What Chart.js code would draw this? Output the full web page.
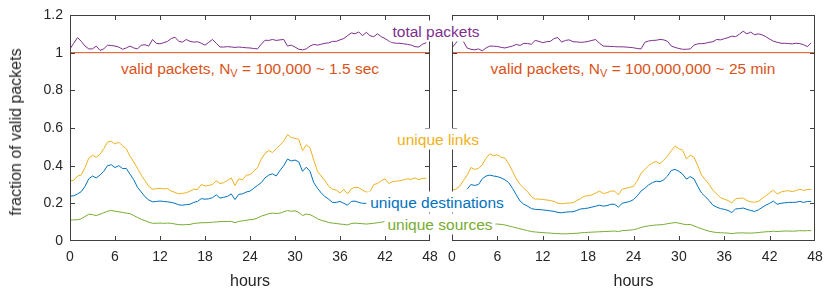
<!DOCTYPE html>
<html>
<head>
<meta charset="utf-8">
<script src="https://cdn.jsdelivr.net/npm/chart.js@4.4.1/dist/chart.umd.min.js"></script>
<style>
body { margin: 0; background: #fff; }
#wrap { position: relative; width: 830px; height: 299px; font-family: "Liberation Sans", Arial, sans-serif; color: #262626; }
#wrap canvas { position: absolute; top: 0; }
.box { position: absolute; border: 1px solid #404040; box-sizing: border-box; pointer-events: none; }
.lbl { position: absolute; background: #fff; font-size: 15.5px; line-height: 17px; padding: 2px 3px; white-space: nowrap; transform: translate(-50%, -50%); }
.lbl sub { font-size: 11px; line-height: 0; vertical-align: -3px; }
.ytitle { position: absolute; left: 16px; top: 132px; font-size: 16px; white-space: nowrap; transform: translate(-50%, -50%) rotate(-90deg); }
</style>
</head>
<body>
<div id="wrap">
  <canvas id="left" width="440" height="299" style="left:0"></canvas>
  <canvas id="right" width="390" height="299" style="left:440px"></canvas>
  <div class="box" id="box-left"></div>
  <div class="box" id="box-right"></div>
  <div class="ytitle">fraction of valid packets</div>
  <div class="lbl" style="left:436px;top:31px;color:#7E2F8E">total packets</div>
  <div class="lbl" style="left:250px;top:68px;color:#D95319">valid packets, N<sub>V</sub> = 100,000 ~ 1.5 sec</div>
  <div class="lbl" style="left:633px;top:68px;color:#D95319">valid packets, N<sub>V</sub> = 100,000,000 ~ 25 min</div>
  <div class="lbl" style="left:438px;top:139px;color:#EDB120">unique links</div>
  <div class="lbl" style="left:437px;top:202px;color:#0072BD">unique destinations</div>
  <div class="lbl" style="left:440px;top:224px;color:#77AC30">unique sources</div>
</div>
<script>
// time axis, half-hour samples
const hours = [
  0,0.5,1,1.5,2,2.5,3,3.5,4,4.5,5,5.5,
  6,6.5,7,7.5,8,8.5,9,9.5,10,10.5,11,11.5,
  12,12.5,13,13.5,14,14.5,15,15.5,16,16.5,17,17.5,
  18,18.5,19,19.5,20,20.5,21,21.5,22,22.5,23,23.5,
  24,24.5,25,25.5,26,26.5,27,27.5,28,28.5,29,29.5,
  30,30.5,31,31.5,32,32.5,33,33.5,34,34.5,35,35.5,
  36,36.5,37,37.5,38,38.5,39,39.5,40,40.5,41,41.5,
  42,42.5,43,43.5,44,44.5,45,45.5,46,46.5,47,47.5
];
const xTicks = [0, 6, 12, 18, 24, 30, 36, 42, 48];
const validLevel = 1;
const validSpan = [0, 48];

// left panel: N_V = 100,000
const leftTotal = [
  1.02,1.05,1.08,1.06,1.035,1.02,1.02,1.035,1.012,1.02,1.04,1.038,
  1.035,1.03,1.018,1.025,1.035,1.025,1.02,1.04,1.042,1.035,1.07,1.05,
  1.047,1.053,1.06,1.075,1.082,1.06,1.056,1.07,1.06,1.056,1.058,1.05,
  1.04,1.055,1.07,1.05,1.03,1.03,1.032,1.03,1.028,1.03,1.028,1.026,
  1.025,1.022,1.02,1.045,1.066,1.065,1.07,1.065,1.068,1.07,1.035,1.04,
  1.03,1.018,1.015,1.02,1.035,1.044,1.04,1.045,1.05,1.052,1.06,1.06,
  1.068,1.075,1.09,1.105,1.1,1.11,1.09,1.108,1.09,1.085,1.1,1.085,
  1.075,1.062,1.053,1.05,1.05,1.047,1.044,1.04,1.032,1.03,1.045,1.053
];
const leftLinks = [
  0.32,0.322,0.345,0.35,0.39,0.44,0.455,0.445,0.46,0.49,0.525,0.53,
  0.515,0.525,0.505,0.49,0.45,0.42,0.385,0.35,0.32,0.29,0.275,0.278,
  0.28,0.277,0.278,0.265,0.258,0.25,0.253,0.256,0.265,0.275,0.273,0.3,
  0.292,0.295,0.3,0.32,0.305,0.31,0.322,0.335,0.295,0.33,0.325,0.35,
  0.352,0.37,0.39,0.435,0.465,0.48,0.47,0.49,0.51,0.53,0.565,0.55,
  0.545,0.54,0.48,0.51,0.495,0.43,0.37,0.345,0.32,0.29,0.275,0.27,
  0.255,0.275,0.25,0.277,0.285,0.283,0.27,0.26,0.262,0.3,0.305,0.32,
  0.33,0.305,0.315,0.318,0.32,0.325,0.33,0.328,0.335,0.325,0.333,0.333
];
const leftDest = [
  0.238,0.24,0.25,0.262,0.29,0.33,0.345,0.335,0.35,0.37,0.40,0.405,
  0.39,0.40,0.385,0.385,0.355,0.325,0.285,0.26,0.235,0.218,0.208,0.21,
  0.212,0.21,0.208,0.205,0.2,0.192,0.19,0.193,0.195,0.205,0.21,0.225,
  0.222,0.224,0.23,0.245,0.228,0.232,0.237,0.25,0.22,0.248,0.25,0.26,
  0.265,0.28,0.295,0.31,0.335,0.35,0.357,0.345,0.375,0.4,0.435,0.425,
  0.43,0.42,0.37,0.392,0.37,0.31,0.28,0.255,0.235,0.222,0.205,0.205,
  0.21,0.2,0.19,0.21,0.212,0.205,0.2,0.2,null,null,null,null,
  null,null,null,null,null,null,null,null,null,null,null,null
];
const leftSrc = [
  0.112,0.112,0.113,0.118,0.13,0.142,0.14,0.135,0.142,0.15,0.158,0.162,
  0.158,0.155,0.152,0.148,0.145,0.135,0.125,0.115,0.108,0.1,0.094,0.094,
  0.095,0.094,0.095,0.094,0.09,0.087,0.086,0.087,0.088,0.093,0.095,0.097,
  0.097,0.098,0.1,0.101,0.103,0.103,0.104,0.104,0.097,0.104,0.107,0.11,
  0.113,0.115,0.122,0.132,0.138,0.145,0.148,0.146,0.148,0.155,0.162,0.158,
  0.16,0.152,0.135,0.143,0.14,0.13,0.118,0.11,0.105,0.098,0.095,0.093,
  0.09,0.088,0.085,0.093,0.095,0.093,0.092,0.09,0.092,0.094,0.097,0.1,
  0.103,null,null,null,null,null,null,null,null,null,null,null
];

// right panel: N_V = 100,000,000
const rightTotal = [
  1.026,1.05,1.079,1.06,1.025,1.018,1.015,1.02,1.01,1.025,1.035,1.034,
  1.033,1.028,1.025,1.03,1.035,1.044,1.038,1.05,1.048,1.045,1.065,1.06,
  1.053,1.058,1.06,1.075,1.08,1.056,1.065,1.068,1.058,1.057,1.055,1.056,
  1.06,1.065,1.07,1.05,1.035,1.034,1.033,1.032,1.031,1.031,1.03,1.028,
  1.026,1.022,1.02,1.055,1.062,1.065,1.066,1.07,1.068,1.06,1.035,1.028,
  1.022,1.018,1.018,1.02,1.04,1.047,1.048,1.05,1.055,1.058,1.07,1.068,
  1.074,1.08,1.088,1.085,1.098,1.114,1.1,1.109,1.095,1.1,1.095,1.085,
  1.072,1.061,1.055,1.05,1.05,1.048,1.047,1.05,1.048,1.042,1.032,1.052
];
const rightLinks = [
  0.27,0.275,0.29,0.32,0.35,0.39,0.38,0.385,0.405,0.44,0.463,0.452,
  0.458,0.445,0.44,0.41,0.37,0.33,0.30,0.28,0.262,0.235,0.222,0.223,
  0.22,0.218,0.215,0.21,0.2,0.198,0.2,0.202,0.203,0.215,0.225,0.238,
  0.24,0.245,0.255,0.265,0.252,0.256,0.265,0.265,0.245,0.275,0.28,0.285,
  0.29,0.32,0.36,0.38,0.4,0.415,0.422,0.41,0.43,0.45,0.48,0.505,
  0.49,0.482,0.436,0.455,0.445,0.4,0.35,0.325,0.3,0.27,0.25,0.23,
  0.222,0.215,0.202,0.225,0.227,0.228,0.215,0.208,0.206,0.21,0.225,0.24,
  0.256,0.27,0.25,0.26,0.265,0.267,0.262,0.268,0.275,0.268,0.274,0.274
];
const rightDest = [
  null,null,null,null,0.275,0.3,0.295,0.3,0.33,0.345,0.35,0.345,
  0.342,0.335,0.325,0.31,0.28,0.245,0.212,0.195,0.185,0.172,0.168,0.167,
  0.165,0.163,0.16,0.157,0.152,0.15,0.153,0.155,0.155,0.162,0.17,0.172,
  0.175,0.18,0.185,0.19,0.185,0.188,0.195,0.195,0.18,0.2,0.205,0.21,
  0.22,0.24,0.265,0.28,0.298,0.31,0.318,0.315,0.325,0.345,0.375,0.38,
  0.37,0.355,0.328,0.342,0.33,0.29,0.255,0.235,0.215,0.19,0.18,0.172,
  0.168,0.162,0.151,0.17,0.172,0.175,0.168,0.162,0.157,0.165,0.178,0.19,
  0.2,0.212,0.195,0.2,0.203,0.205,0.205,0.206,0.21,0.205,0.21,0.21
];
const rightSrc = [
  null,null,null,null,null,null,null,null,null,null,null,0.09,
  0.09,0.088,0.085,0.08,0.075,0.07,0.065,0.06,0.055,0.05,0.048,0.046,
  0.045,0.043,0.042,0.04,0.039,0.038,0.038,0.039,0.04,0.041,0.043,0.045,
  0.046,0.047,0.048,0.049,0.05,0.051,0.052,0.053,0.05,0.055,0.056,0.058,
  0.06,0.065,0.072,0.077,0.08,0.083,0.085,0.086,0.088,0.092,0.095,0.098,
  0.095,0.09,0.087,0.088,0.08,0.072,0.065,0.058,0.052,0.048,0.045,0.044,
  0.043,0.042,0.039,0.042,0.043,0.043,0.042,0.042,0.043,0.045,0.047,0.049,
  0.05,0.052,0.05,0.052,0.053,0.053,0.052,0.053,0.055,0.054,0.055,0.055
];

const FONT = '"Liberation Sans", Arial, sans-serif';
const INK = '#262626';

// inward tick marks, like matlab
const tickPlugin = {
  id: 'inticks',
  afterDraw(chart) {
    const ctx = chart.ctx;
    const a = chart.chartArea;
    const x = chart.scales.x, y = chart.scales.y;
    const l = Math.round(a.left), r = Math.round(a.right) - 1;
    const t = Math.round(a.top), b = Math.round(a.bottom) - 1;
    ctx.save();
    ctx.fillStyle = '#404040';
    xTicks.forEach(v => {
      const px = Math.min(r, Math.round(x.getPixelForValue(v)));
      ctx.fillRect(px, b - 4, 1, 4);
      ctx.fillRect(px, t + 1, 1, 4);
    });
    y.ticks.forEach(tk => {
      const py = Math.min(b, Math.round(y.getPixelForValue(tk.value)));
      ctx.fillRect(l + 1, py, 4, 1);
      ctx.fillRect(r - 4, py, 4, 1);
    });
    ctx.restore();
  }
};

function line(data, color) {
  return {data: data, borderColor: color, borderWidth: 1, pointRadius: 0, fill: false, spanGaps: false, tension: 0};
}

function makePanel(id, total, links, dest, src, showY, padding) {
  return new Chart(document.getElementById(id), {
    type: 'line',
    data: {
      labels: hours,
      datasets: [
        line([{x: validSpan[0], y: validLevel}, {x: validSpan[1], y: validLevel}], '#D95319'),
        line(total, '#7E2F8E'),
        line(links, '#EDB120'),
        line(dest, '#0072BD'),
        line(src, '#77AC30')
      ]
    },
    options: {
      responsive: false,
      animation: false,
      layout: {padding: padding},
      plugins: {legend: {display: false}, tooltip: {enabled: false}},
      scales: {
        x: {
          type: 'linear', min: 0, max: 48,
          afterBuildTicks(s) { s.ticks = xTicks.map(v => ({value: v})); },
          ticks: {padding: 8, color: INK, font: {family: FONT, size: 14}, maxRotation: 0},
          grid: {display: false, drawTicks: false},
          border: {display: false},
          title: {display: true, text: 'hours', color: INK, font: {family: FONT, size: 16}, padding: {top: 0, bottom: 8}},
          afterFit(s) { s.height = 58; s.paddingLeft = 0; s.paddingRight = 0; }
        },
        y: {
          min: 0, max: 1.2,
          ticks: {display: showY, stepSize: 0.2, padding: 7, color: INK, font: {family: FONT, size: 14},
            callback: v => String(Number(v.toFixed(1)))},
          grid: {display: false, drawTicks: false},
          border: {display: false},
          afterFit(s) { s.width = showY ? 70 : 0; s.paddingTop = 0; s.paddingBottom = 0; }
        }
      }
    },
    plugins: [tickPlugin]
  });
}

// frame div laid over the chart area the library computed
function placeBox(chart, boxId, offsetX) {
  const a = chart.chartArea;
  const el = document.getElementById(boxId);
  el.style.left = (offsetX + Math.round(a.left)) + 'px';
  el.style.top = Math.round(a.top) + 'px';
  el.style.width = (Math.round(a.right) - Math.round(a.left)) + 'px';
  el.style.height = (Math.round(a.bottom) - Math.round(a.top)) + 'px';
}

const leftChart = makePanel('left', leftTotal, leftLinks, leftDest, leftSrc, true, {top: 15, right: 10, left: 0, bottom: 0});
const rightChart = makePanel('right', rightTotal, rightLinks, rightDest, rightSrc, false, {top: 15, right: 15, left: 12, bottom: 0});
placeBox(leftChart, 'box-left', 0);
placeBox(rightChart, 'box-right', 440);
</script>
</body>
</html>
